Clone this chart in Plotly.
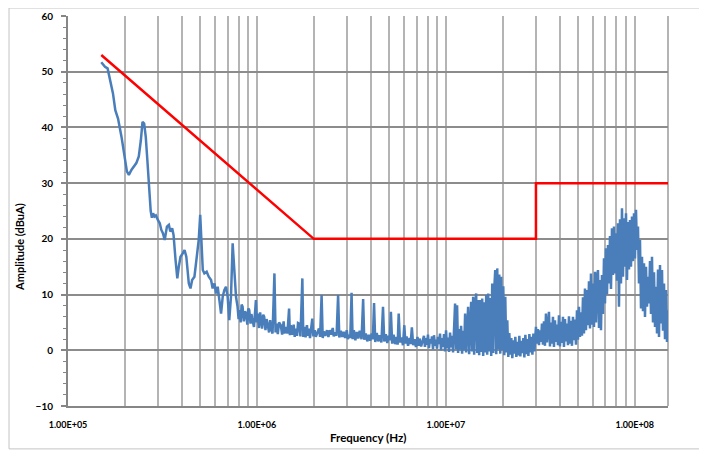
import numpy as np
import plotly.graph_objects as go

# ---------------- data ----------------
# Low-frequency part of the sweep (MHz, dBuA)
low_freq_mhz = [
    0.150, 0.157, 0.162, 0.166, 0.173, 0.178, 0.184, 0.192, 0.200, 0.205,
    0.210, 0.217, 0.230, 0.237, 0.243, 0.248, 0.253, 0.258, 0.263, 0.268,
    0.274, 0.278, 0.282, 0.287, 0.292, 0.299, 0.306, 0.312, 0.318, 0.325,
    0.330, 0.334, 0.342, 0.348, 0.356, 0.362, 0.371, 0.379, 0.386, 0.394,
    0.405, 0.414, 0.423, 0.436, 0.445, 0.454, 0.467, 0.480, 0.492, 0.501,
    0.509, 0.517, 0.527, 0.542, 0.556, 0.572, 0.583, 0.596, 0.608, 0.620,
    0.633, 0.646, 0.659, 0.672, 0.686, 0.700, 0.714, 0.729, 0.744, 0.759,
    0.775, 0.790, 0.800, 0.807, 0.820, 0.830, 0.840, 0.852, 0.865, 0.875,
    0.890, 0.900, 0.911, 0.925, 0.935, 0.948, 0.965, 0.988, 1.000, 1.007,
    1.025, 1.040, 1.050, 1.065, 1.080, 1.093, 1.110, 1.125, 1.137, 1.160,
    1.175, 1.185, 1.210, 1.238, 1.255, 1.269, 1.290, 1.310, 1.338, 1.360,
    1.385, 1.400, 1.422, 1.450, 1.480, 1.495, 1.511, 1.540, 1.565, 1.585,
    1.606, 1.630, 1.650, 1.671, 1.700, 1.740, 1.760, 1.782, 1.810, 1.840,
    1.860, 1.887, 1.910, 1.935, 1.964, 1.990, 2.022, 2.050, 2.080, 2.130,
    2.160, 2.200, 2.230, 2.260, 2.300, 2.350, 2.390, 2.430, 2.470, 2.520,
    2.550, 2.590, 2.640, 2.690, 2.730, 2.780, 2.830, 2.880, 2.930, 2.990,
    3.030, 3.070, 3.120, 3.170, 3.210, 3.260, 3.320, 3.380, 3.440, 3.500,
    3.580, 3.650, 3.700, 3.770, 3.840, 3.910, 3.980, 4.050, 4.110, 4.170,
    4.230, 4.310, 4.390, 4.470, 4.560, 4.650, 4.720, 4.810, 4.900, 4.980,
    5.050, 5.120, 5.200, 5.290, 5.390, 5.490, 5.560, 5.630, 5.720, 5.830,
    5.930, 6.030, 6.110, 6.200, 6.310, 6.430, 6.510, 6.610, 6.720, 6.830,
    6.950, 7.080, 7.170, 7.260, 7.400,
]
low_amp_db = [
    51.7, 50.9, 50.6, 49.1, 46.1, 43.1, 41.6, 38.3, 34.8, 32.1,
    31.5, 32.4, 33.6, 34.8, 37.7, 41.0, 40.7, 38.3, 34.2, 28.8,
    25.0, 23.8, 24.6, 24.0, 24.2, 23.4, 22.8, 21.6, 21.0, 19.8,
    21.5, 22.2, 22.5, 21.3, 21.9, 20.7, 16.2, 12.9, 15.0, 16.8,
    17.4, 18.0, 16.8, 12.0, 11.1, 12.6, 13.2, 16.2, 19.8, 24.3,
    18.0, 14.4, 13.8, 14.1, 13.2, 12.6, 11.1, 12.0, 10.2, 11.4,
    9.0, 6.6, 9.6, 10.8, 11.4, 9.6, 5.4, 9.6, 19.2, 13.8,
    9.6, 7.8, 5.6, 7.2, 5.0, 8.2, 7.8, 5.2, 7.0, 6.6,
    4.6, 7.5, 7.2, 4.8, 6.5, 5.4, 4.2, 9.0, 5.0, 6.6,
    4.0, 6.8, 5.7, 3.9, 6.4, 6.0, 3.6, 5.6, 4.8, 3.2,
    5.4, 4.2, 3.0, 13.8, 3.2, 4.8, 2.9, 5.0, 4.5, 2.8,
    5.2, 3.0, 4.2, 3.0, 7.5, 2.7, 4.5, 2.8, 4.6, 2.4,
    3.9, 2.6, 4.9, 4.8, 2.5, 12.9, 2.4, 4.2, 2.3, 4.5,
    2.6, 3.9, 2.2, 4.0, 5.7, 2.5, 3.6, 2.4, 3.0, 3.9,
    2.4, 9.9, 2.2, 3.4, 2.6, 3.6, 2.4, 3.6, 2.8, 4.0,
    2.5, 3.2, 2.6, 9.9, 2.3, 3.5, 2.4, 3.3, 2.2, 3.6,
    2.0, 2.8, 2.2, 10.3, 2.0, 3.6, 1.8, 3.3, 2.1, 3.5,
    2.0, 9.2, 1.9, 3.0, 1.6, 2.8, 1.7, 3.0, 2.0, 8.5,
    1.5, 3.1, 1.6, 2.7, 1.4, 7.8, 1.6, 2.9, 1.3, 2.6,
    1.8, 6.9, 1.2, 2.8, 1.1, 2.4, 1.0, 6.6, 1.4, 2.3,
    0.9, 4.5, 1.2, 2.5, 0.8, 2.2, 1.1, 4.1, 0.9, 2.0,
    0.6, 2.4, 0.8, 2.1, 0.7,
]

# Dense sweep, 7.66 MHz - 29.8 MHz (points evenly spaced on the log axis)
mid_start_mhz, mid_stop_mhz = 7.66, 29.8
mid_amp_db = [
    2.6, 0.6, 2.2, 1.0, 2.8, 0.4, 2.0, 1.2, 2.5, 0.2,
    2.7, 0.8, 1.9, 0.3, 2.4, 1.1, 3.0, 0.0, 2.2, 0.6,
    2.9, -0.2, 3.6, 0.4, 2.3, -0.3, 3.2, 0.5, 2.6, -0.4,
    6.5, 8.4, 0.2, 8.1, -0.5, 3.8, 0.1, 4.4, -0.6, 3.5,
    0.0, 6.6, -0.4, 5.2, 7.8, -0.7, 6.0, 8.7, -0.2, 9.6,
    -0.8, 8.2, 10.2, -0.5, 9.0, -0.9, 9.0, -0.3, 9.3, -1.0,
    8.6, -0.4, 9.9, -0.8, 10.2, -0.2, 9.4, -1.0, 12.0, -0.5,
    11.0, 14.4, -0.7, 14.7, 0.2, 13.6, -0.6, 13.2, 0.0, 11.5,
    -0.9, 9.6, -0.4, 5.4, -1.2, 3.1, -0.8, 2.2, -1.4, 1.8,
    -0.6, 2.4, -1.2, 1.5, -0.9, 2.6, -1.1, 1.7, -0.5, 2.2,
    -1.3, 2.8, -0.7, 2.0, -1.0, 2.9, -0.4, 2.4, -0.8, 3.0,
    -0.2, 2.5,
]

# Dense sweep, 30 MHz - 150 MHz
high_start_mhz, high_stop_mhz = 30.0, 150.0
high_amp_db = [
    4.2, 1.2, 3.8, 0.9, 3.6, 1.5, 4.8, 1.0, 5.2, 0.8,
    6.6, 1.4, 5.5, 6.9, 0.7, 5.0, 1.2, 6.0, 0.6, 5.4,
    1.5, 4.6, 0.9, 6.3, 0.7, 5.1, 1.3, 6.0, 0.6, 5.6,
    1.6, 4.8, 0.9, 6.1, 1.2, 5.3, 0.8, 6.0, 1.8, 5.5,
    1.0, 7.2, 1.9, 7.8, 2.4, 6.8, 2.6, 9.5, 3.0, 11.1,
    3.6, 10.8, 4.5, 12.4, 3.9, 13.8, 4.6, 12.0, 4.2, 14.1,
    5.0, 13.0, 14.4, 4.0, 12.6, 3.6, 13.5, 6.5, 16.5, 8.4,
    18.3, 10.0, 18.9, 12.0, 20.5, 11.0, 21.9, 13.5, 22.2, 13.8,
    21.0, 12.5, 22.8, 7.8, 23.5, 12.0, 25.5, 13.2, 23.7, 15.0,
    24.6, 12.6, 23.0, 14.5, 23.4, 15.0, 24.0, 16.0, 24.6, 16.5,
    25.2, 18.0, 22.2, 12.0, 19.8, 7.5, 16.8, 7.0, 15.6, 6.0,
    15.0, 7.8, 13.2, 8.4, 16.0, 6.5, 16.8, 5.0, 14.0, 4.2,
    11.4, 3.0, 14.5, 2.4, 15.3, 4.8, 14.4, 3.5, 12.0, 2.0,
    10.8, 1.5, 7.2,
]

# Limit line (MHz, dBuA)
limit_freq_mhz = [0.15, 2.0, 30.0, 30.0, 150.0]
limit_amp_db = [53, 20, 20, 30, 30]

# Axis ticks
x_tick_vals = [1e5, 1e6, 1e7, 1e8]
x_tick_text = ["1.00E+05", "1.00E+06", "1.00E+07", "1.00E+08"]
x_minor_mult = [2, 3, 4, 5, 6, 7, 8, 9]
x_decades = [1e5, 1e6, 1e7]
x_max = 1.5e8
y_min, y_max = -10, 60

# ---------------- build ----------------
mid_freq = np.geomspace(mid_start_mhz, mid_stop_mhz, len(mid_amp_db))
high_freq = np.geomspace(high_start_mhz, high_stop_mhz, len(high_amp_db))

meas_freq_hz = np.concatenate([np.array(low_freq_mhz), mid_freq, high_freq]) * 1e6
meas_amp = np.concatenate([np.array(low_amp_db), np.array(mid_amp_db), np.array(high_amp_db)])

minor_vals = [d * m for d in x_decades for m in x_minor_mult] + [1e8]

fig = go.Figure()
fig.add_trace(go.Scatter(
    x=meas_freq_hz, y=meas_amp, mode="lines",
    line=dict(color="#4a7ebb", width=2.5), hoverinfo="skip",
))
fig.add_trace(go.Scatter(
    x=np.array(limit_freq_mhz) * 1e6, y=limit_amp_db, mode="lines",
    line=dict(color="#ff0000", width=2.5), hoverinfo="skip",
))

font_family = "Lato, 'Open Sans', sans-serif"

# The page body has an 8px margin, so the figure is sized/offset to match
fig.update_layout(
    width=699, height=444,
    margin=dict(l=60, r=39, t=8, b=46, autoexpand=False),
    plot_bgcolor="white", paper_bgcolor="white",
    showlegend=False,
    font=dict(family=font_family, color="black"),
    xaxis=dict(
        type="log",
        range=[5, np.log10(x_max)],
        automargin=False,
        tickmode="array", tickvals=x_tick_vals, ticktext=x_tick_text,
        showgrid=True, gridcolor="#b4b4b4", gridwidth=2,
        minor=dict(tickmode="array", tickvals=minor_vals, showgrid=True,
                   gridcolor="#b4b4b4", gridwidth=2, ticks=""),
        showline=True, linecolor="#868686", linewidth=2,
        ticks="", zeroline=False,
        tickfont=dict(family=font_family, size=9, color="black", weight="bold"),
        ticklabelstandoff=9,
    ),
    yaxis=dict(
        range=[y_min, y_max], tick0=0, dtick=10,
        automargin=False,
        showgrid=True, gridcolor="#8c8c8c", gridwidth=2,
        showline=True, linecolor="#868686", linewidth=2,
        ticks="outside", ticklen=5, tickcolor="#868686", tickwidth=1.5,
        minor=dict(dtick=2, ticks="outside", ticklen=3, tickcolor="#868686",
                   tickwidth=1, showgrid=False),
        zeroline=False,
        tickfont=dict(family=font_family, size=10, color="black", weight="bold"),
        ticklabelstandoff=6,
    ),
    shapes=[
        dict(type="line", xref="paper", yref="paper", x0=1, x1=1, y0=0, y1=1,
             line=dict(color="#b4b4b4", width=2), layer="below"),
        dict(type="rect", xref="paper", yref="paper",
             x0=-0.0983, x1=1.0533, y0=-0.110, y1=1.0205,
             line=dict(color="#c4c4c4", width=1), layer="below"),
    ],
    annotations=[
        dict(text="<b>Amplitude (dBuA)</b>", xref="paper", yref="paper",
             x=-0.08, y=0.408, textangle=-90, showarrow=False,
             font=dict(family=font_family, size=11, color="black"),
             xanchor="center", yanchor="middle"),
        dict(text="<b>Frequency (Hz)</b>", xref="paper", yref="paper",
             x=0.5, y=-0.082, showarrow=False,
             font=dict(family=font_family, size=11.5, color="black"),
             xanchor="center", yanchor="middle"),
    ],
)

fig.write_html("out.html")
